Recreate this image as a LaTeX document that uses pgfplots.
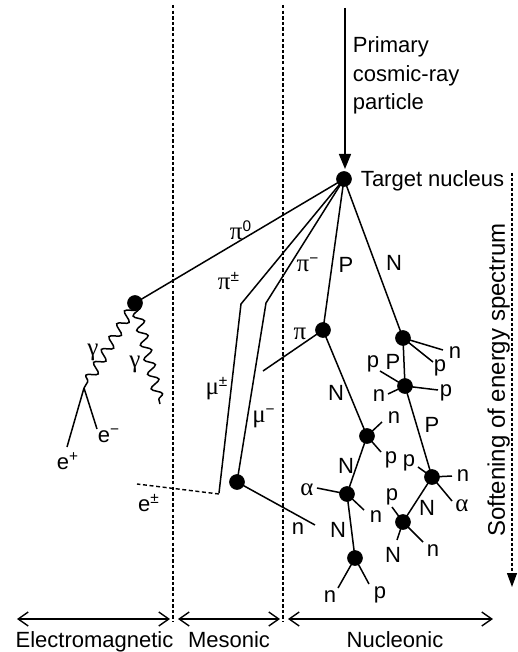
\documentclass[border=0pt]{standalone}
\usepackage{fontspec}
\setmainfont{Liberation Sans}
\newfontfamily\grkf{Liberation Serif}
\newcommand{\grk}{\fontsize{12.5}{14}\grkf}
\usepackage{pgfplots}
\pgfplotsset{compat=1.18}
\usetikzlibrary{arrows.meta,decorations.pathmorphing}
\tikzset{t/.style={font=\fontsize{11}{13}\selectfont,inner sep=0pt,outer sep=0pt}}
\newcommand{\seg}[1]{\addplot[ln] coordinates {#1};}
\newcommand{\lab}[3]{\node[t] at (axis cs:#1,#2) {#3};}
\begin{document}
\begin{tikzpicture}
\begin{axis}[width=259pt,height=326pt,scale only axis,
  xmin=0,xmax=518,ymin=0,ymax=652,y dir=reverse,hide axis,clip=false,
  ln/.style={black,line width=0.75pt,no marks},
  dsh/.style={black,line width=0.65pt,no marks,dash pattern=on 1.7pt off 1.1pt},
  wav/.style={black,line width=0.75pt,no marks,decorate,decoration={snake,amplitude=2.5pt,segment length=7.5pt,post length=1pt}}]
\coordinate (bl) at (axis cs:0,652);
\coordinate (tr) at (axis cs:518,0);
% region separators
\addplot[dsh] coordinates {(173,5) (173,622)};
\addplot[dsh] coordinates {(283,5) (283,622)};
% softening arrow
\addplot[black,line width=0.6pt,no marks,dash pattern=on 1.4pt off 1.1pt,-{Triangle[length=7pt,width=5pt]}] coordinates {(512,173) (512,587)};
% primary arrow
\addplot[black,line width=0.75pt,no marks,-{Triangle[length=7.5pt,width=6pt]}] coordinates {(345,8) (345,169)};
% region arrows
\addplot[black,line width=0.7pt,no marks,{Straight Barb[length=5pt,width=7pt]}-{Straight Barb[length=5pt,width=7pt]}] coordinates {(17,619) (170,619)};
\addplot[black,line width=0.7pt,no marks,{Straight Barb[length=5pt,width=7pt]}-{Straight Barb[length=5pt,width=7pt]}] coordinates {(178,619) (280,619)};
\addplot[black,line width=0.7pt,no marks,{Straight Barb[length=5pt,width=7pt]}-{Straight Barb[length=5pt,width=7pt]}] coordinates {(288,619) (493,619)};
% electromagnetic
\seg{(344,179) (135,303)}
\addplot[wav] coordinates {(135,303) (84,388)};
\addplot[wav] coordinates {(135,303) (160,404)};
\seg{(84,388) (67,447)}
\seg{(84,388) (97,429)}
% mesonic
\seg{(344,179) (241,304) (219,493)}
\addplot[black,line width=0.7pt,no marks,dash pattern=on 2pt off 1.3pt] coordinates {(219,494) (137,484)};
\seg{(344,179) (266,303) (237,482)}
\seg{(237,482) (315,525)}
% nucleonic
\seg{(344,179) (323,330)}
\seg{(344,179) (403,338)}
\seg{(323,330) (263,371)}
\seg{(323,330) (367,436)}
\seg{(367,436) (382,422)}
\seg{(367,436) (381,452)}
\seg{(367,436) (347,494)}
\seg{(347,494) (317,488)}
\seg{(347,494) (364,510)}
\seg{(347,494) (355,558)}
\seg{(355,558) (338,588)}
\seg{(355,558) (369,584)}
\seg{(403,338) (443,350)}
\seg{(403,338) (433,362)}
\seg{(403,338) (405,386)}
\seg{(380,371) (405,386)}
\seg{(388,394) (405,386)}
\seg{(405,386) (438,390)}
\seg{(405,386) (432,477)}
\seg{(418,467) (432,477)}
\seg{(432,477) (452,476)}
\seg{(432,477) (452,501)}
\seg{(432,477) (403,522)}
\seg{(392,507) (403,522)}
\seg{(403,522) (397,540)}
\seg{(403,522) (423,542)}
% dots
\addplot[only marks,mark=*,mark size=3.7pt,black] coordinates {
(344,179) (135,303) (237,482) (323,330) (403,338) (367,436) (347,494)
(355,558) (405,386) (432,477) (403,522)};
% texts
\node[t,anchor=base west] at (axis cs:353,53) {Primary};
\node[t,anchor=base west] at (axis cs:353,82) {cosmic-ray};
\node[t,anchor=base west] at (axis cs:353,110) {particle};
\node[t,anchor=base west] at (axis cs:361,186) {Target nucleus};
\node[t,anchor=base,rotate=90,font=\fontsize{12}{14}\selectfont] at (axis cs:505,380) {Softening of energy spectrum};
\node[t,anchor=base] at (axis cs:94.5,647) {Electromagnetic};
\node[t,anchor=base] at (axis cs:229,647) {Mesonic};
\node[t,anchor=base] at (axis cs:395,647) {Nucleonic};
\lab{241}{230}{{\grk π}\textsuperscript{0}}
\lab{93}{352}{{\grk γ}}
\lab{135}{364}{{\grk γ}}
\lab{68}{461}{e\textsuperscript{+}}
\lab{109}{436}{e\textsuperscript{−}}
\lab{149}{503}{e\textsuperscript{±}}
\lab{229}{281}{{\grk π}\textsuperscript{±}}
\lab{217}{389}{{\grk μ}\textsuperscript{±}}
\lab{264}{418}{{\grk μ}\textsuperscript{−}}
\lab{308}{265}{{\grk π}\textsuperscript{−}}
\lab{346}{265}{P}
\lab{394}{263}{N}
\lab{300}{334}{{\grk π}}
\lab{298}{529}{n}
\lab{336}{393}{N}
\lab{394}{418}{n}
\lab{391}{460}{p}
\lab{346}{466}{N}
\lab{307}{490}{{\grk α}}
\lab{376}{517}{n}
\lab{338}{530}{N}
\lab{330}{597}{n}
\lab{380}{595}{p}
\lab{455}{353}{n}
\lab{440}{368}{p}
\lab{373}{364}{p}
\lab{393}{362}{P}
\lab{379}{396}{n}
\lab{446}{393}{p}
\lab{432}{425}{P}
\lab{409}{463}{p}
\lab{463}{476}{n}
\lab{462}{506}{{\grk α}}
\lab{427}{508}{N}
\lab{392}{497}{p}
\lab{393}{555}{N}
\lab{433}{551}{n}
\end{axis}
\pgfresetboundingbox
\useasboundingbox (bl) rectangle (tr);
\end{tikzpicture}
\end{document}
